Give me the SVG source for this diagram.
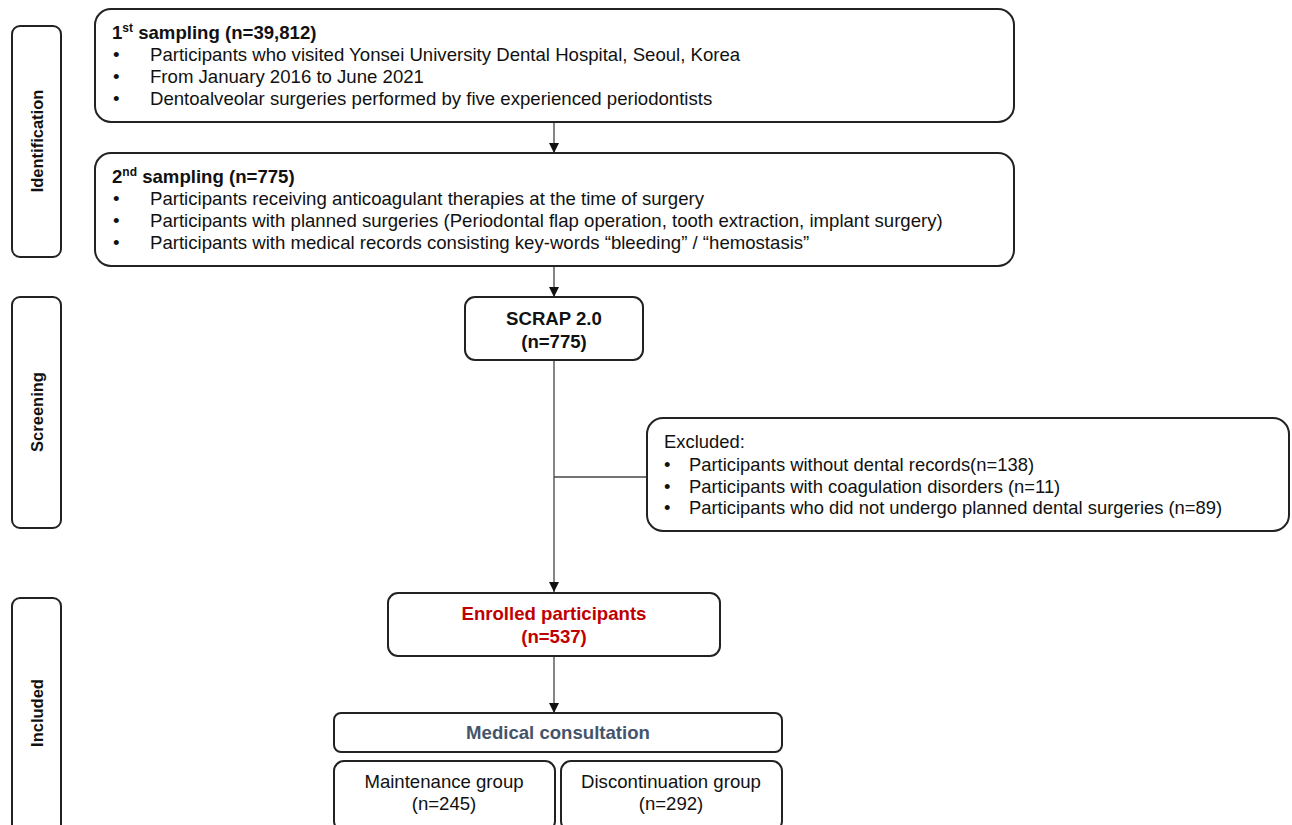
<svg xmlns="http://www.w3.org/2000/svg" width="1292" height="825" viewBox="0 0 1292 825">
<style>
.box{fill:#fff;stroke:#222;stroke-width:2}
.t{font-family:"Liberation Sans",Arial,sans-serif;font-size:18.6px;fill:#111}
.b{font-weight:bold}
.side{font-family:"Liberation Sans",Arial,sans-serif;font-size:16.5px;font-weight:bold;fill:#111}
.c{text-anchor:middle}
.con{stroke:#444;stroke-width:1.3;fill:none}
.n{font-family:"Liberation Sans",Arial,sans-serif;font-size:18.4px;fill:#111}
</style>
<defs>
<marker id="ah" viewBox="0 0 10 10" refX="10" refY="5" markerWidth="10" markerHeight="10" markerUnits="userSpaceOnUse" orient="auto">
<path d="M0,0 L10,5 L0,10 z" fill="#111"/>
</marker>
</defs>
<rect width="1292" height="825" fill="#fff"/>
<g id="side-identification">
<rect class="box" x="12" y="26" width="49" height="231" rx="8"/>
<text class="side c" transform="translate(43,141) rotate(-90)">Identification</text>
</g>
<g id="side-screening">
<rect class="box" x="12" y="297" width="49" height="231" rx="8"/>
<text class="side c" transform="translate(43,412) rotate(-90)">Screening</text>
</g>
<g id="side-included">
<rect class="box" x="12" y="598" width="49" height="240" rx="8"/>
<text class="side c" transform="translate(43,713) rotate(-90)">Included</text>
</g>
<g id="connectors">
<line class="con" x1="554" y1="122" x2="554" y2="153" marker-end="url(#ah)"/>
<line class="con" x1="554" y1="266" x2="554" y2="297" marker-end="url(#ah)"/>
<line class="con" x1="554" y1="360" x2="554" y2="592" marker-end="url(#ah)"/>
<line class="con" x1="554" y1="477" x2="647" y2="477"/>
<line class="con" x1="554" y1="656" x2="554" y2="713" marker-end="url(#ah)"/>
</g>
<g id="first-sampling">
<rect class="box" x="95" y="9" width="919" height="113" rx="16"/>
<text class="t b" x="112" y="39">1<tspan font-size="12" dy="-7">st</tspan><tspan dy="7"> sampling (n=39,812)</tspan></text>
<text class="t" x="113" y="61">•</text><text class="t" x="150" y="61">Participants who visited Yonsei University Dental Hospital, Seoul, Korea</text>
<text class="t" x="113" y="83">•</text><text class="t" x="150" y="83">From January 2016 to June 2021</text>
<text class="t" x="113" y="105">•</text><text class="t" x="150" y="105">Dentoalveolar surgeries performed by five experienced periodontists</text>
</g>
<g id="second-sampling">
<rect class="box" x="95" y="153" width="919" height="113" rx="16"/>
<text class="t b" x="112" y="183">2<tspan font-size="12" dy="-7">nd</tspan><tspan dy="7"> sampling (n=775)</tspan></text>
<text class="t" x="113" y="205">•</text><text class="t" x="150" y="205">Participants receiving anticoagulant therapies at the time of surgery</text>
<text class="t" x="113" y="227">•</text><text class="t" x="150" y="227">Participants with planned surgeries (Periodontal flap operation, tooth extraction, implant surgery)</text>
<text class="t" x="113" y="249">•</text><text class="t" x="150" y="249">Participants with medical records consisting key-words “bleeding” / “hemostasis”</text>
</g>
<g id="scrap">
<rect class="box" x="465" y="297" width="178" height="63" rx="10"/>
<text class="t b c" x="554" y="325">SCRAP 2.0</text>
<text class="t b c" x="554" y="348">(n=775)</text>
</g>
<g id="excluded">
<rect class="box" x="647" y="418" width="642" height="113" rx="16"/>
<text class="n" x="664" y="448">Excluded:</text>
<text class="n" x="664" y="471">•</text><text class="n" x="689" y="471">Participants without dental records(n=138)</text>
<text class="n" x="664" y="493">•</text><text class="n" x="689" y="493">Participants with coagulation disorders (n=11)</text>
<text class="n" x="664" y="514">•</text><text class="n" x="689" y="514">Participants who did not undergo planned dental surgeries (n=89)</text>
</g>
<g id="enrolled">
<rect class="box" x="388" y="593" width="332" height="63" rx="10"/>
<text class="t b c" x="554" y="620" style="fill:#C00000">Enrolled participants</text>
<text class="t b c" x="554" y="643" style="fill:#C00000">(n=537)</text>
</g>
<g id="medical-consultation">
<rect class="box" x="334" y="713" width="448" height="39" rx="7"/>
<text class="t b c" x="558" y="739" style="fill:#44546A">Medical consultation</text>
</g>
<g id="maintenance">
<rect class="box" x="334" y="761" width="221" height="70" rx="10"/>
<text class="t c" x="444" y="788">Maintenance group</text>
<text class="t c" x="444" y="810">(n=245)</text>
</g>
<g id="discontinuation">
<rect class="box" x="561" y="761" width="221" height="70" rx="10"/>
<text class="t c" x="671" y="788">Discontinuation group</text>
<text class="t c" x="671" y="810">(n=292)</text>
</g>
</svg>
